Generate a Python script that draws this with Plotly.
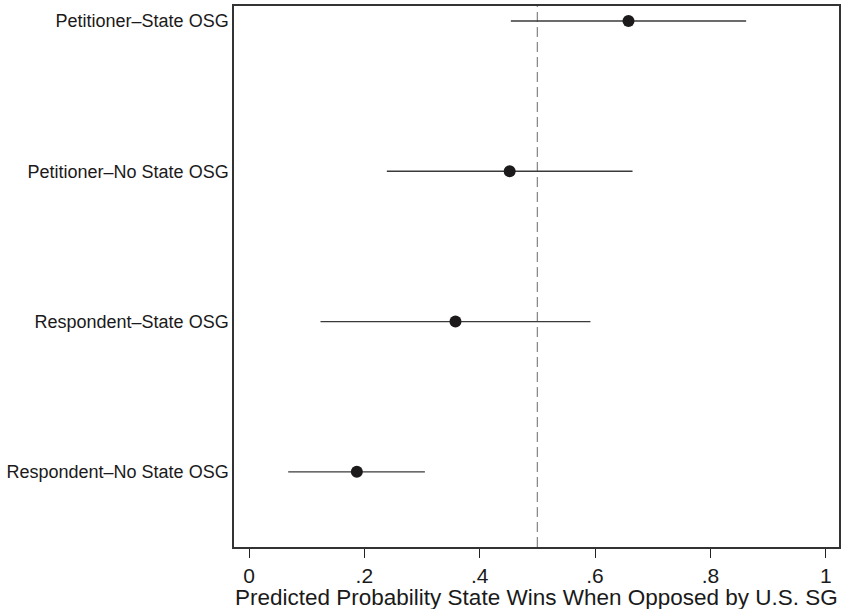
import plotly.graph_objects as go

categories = ["Petitioner\u2013State OSG", "Petitioner\u2013No State OSG",
              "Respondent\u2013State OSG", "Respondent\u2013No State OSG"]
estimates = [0.658, 0.452, 0.358, 0.187]
lower = [0.454, 0.239, 0.124, 0.068]
upper = [0.862, 0.665, 0.592, 0.305]
x_tickvals = [0, 0.2, 0.4, 0.6, 0.8, 1]
x_ticktext = ["0", ".2", ".4", ".6", ".8", "1"]
reference_value = 0.5
x_title = "Predicted Probability State Wins When Opposed by U.S. SG"

ypos = [4, 3, 2, 1]

fig = go.Figure()
fig.add_trace(go.Scatter(
    x=estimates, y=ypos, mode="markers",
    marker=dict(size=12, color="#1c1a1b"),
    error_x=dict(type="data", symmetric=False,
                 array=[u - e for u, e in zip(upper, estimates)],
                 arrayminus=[e - l for e, l in zip(estimates, lower)],
                 width=0, thickness=1.4, color="#3a3a3a"),
    showlegend=False, hoverinfo="x+y",
))

fig.add_shape(type="line", xref="x", yref="paper",
              x0=reference_value, x1=reference_value, y0=0, y1=1,
              line=dict(color="#8a8a8a", width=1.3, dash="10px,5px"), layer="below")

fig.add_annotation(text=x_title, xref="paper", yref="paper", x=0.5, y=-0.0935,
                   xanchor="center", yanchor="middle", showarrow=False,
                   font=dict(size=22.5))

fig.update_layout(
    width=843, height=609,
    margin=dict(l=234, r=4, t=6, b=62),
    paper_bgcolor="white", plot_bgcolor="white",
    font=dict(family="Liberation Sans, Arial, sans-serif", color="#1a1a1a"),
    xaxis=dict(range=[-0.026, 1.023], tickvals=x_tickvals, ticktext=x_ticktext,
               ticks="outside", ticklen=9, tickwidth=1.3, tickcolor="#222",
               tickfont=dict(size=21), showgrid=False, zeroline=False,
               showline=True, linecolor="#333", linewidth=1.5, mirror=True,
               automargin=False),
    yaxis=dict(range=[0.5, 4.1], tickvals=ypos, ticktext=categories,
               ticks="", tickfont=dict(size=18), showgrid=False, zeroline=False,
               showline=True, linecolor="#333", linewidth=1.5, mirror=True,
               automargin=False),
)

fig.write_html("out.html", config={"displayModeBar": False},
               post_script="document.body.style.margin='0';")
